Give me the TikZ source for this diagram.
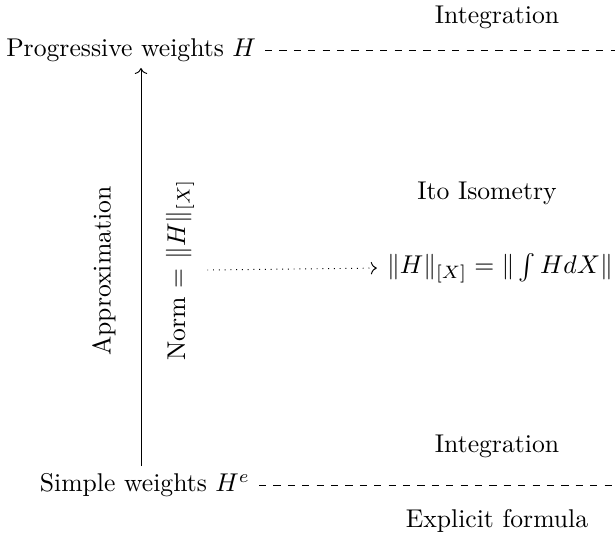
\documentclass[tikz,border=0pt]{standalone}
\usetikzlibrary{arrows.meta}
\begin{document}
\begin{tikzpicture}[x=0.01465cm,y=-0.01465cm,
  lbl/.style={inner sep=1pt,scale=1.07},
  dashline/.style={dashed},
  dotarrow/.style={dotted,->,shorten >=3pt},
  solarrow/.style={->}]
\useasboundingbox (0,0) rectangle (615,535);
\node[lbl,anchor=east] (prog) at (259,50) {Progressive weights $H$};
\node[lbl,anchor=east] (simple) at (253,485) {Simple weights $H^e$};
\coordinate (progend) at (616,50);
\coordinate (simpleend) at (616,485);
\draw[dashline] (prog.east) ++(6,0) coordinate (p0) -- (progend);
\draw[dashline] (simple.east) ++(6,0) coordinate (s0) -- (simpleend);
\node[lbl] (int1) at (497,17) {Integration};
\node[lbl] (int2) at (497,446) {Integration};
\node[lbl] (expl) at (497,521) {Explicit formula};
\coordinate (abot) at (141,466);
\coordinate (atop) at (141,68);
\draw[solarrow] (abot) -- (atop);
\node[lbl,rotate=90] (approx) at (104,271) {Approximation};
\node[lbl,rotate=90] (norm) at (180,270) {Norm = $\|H\|_{[X]}$};
\node[lbl] (ito) at (487,193) {Ito Isometry};
\node[lbl,anchor=west] (iso) at (384,268) {$\|H\|_{[X]}=\|\int H dX\|$};
\draw[dotarrow] (norm.south) ++(10,0) coordinate (d0) -- (iso.west);
\end{tikzpicture}
\end{document}
